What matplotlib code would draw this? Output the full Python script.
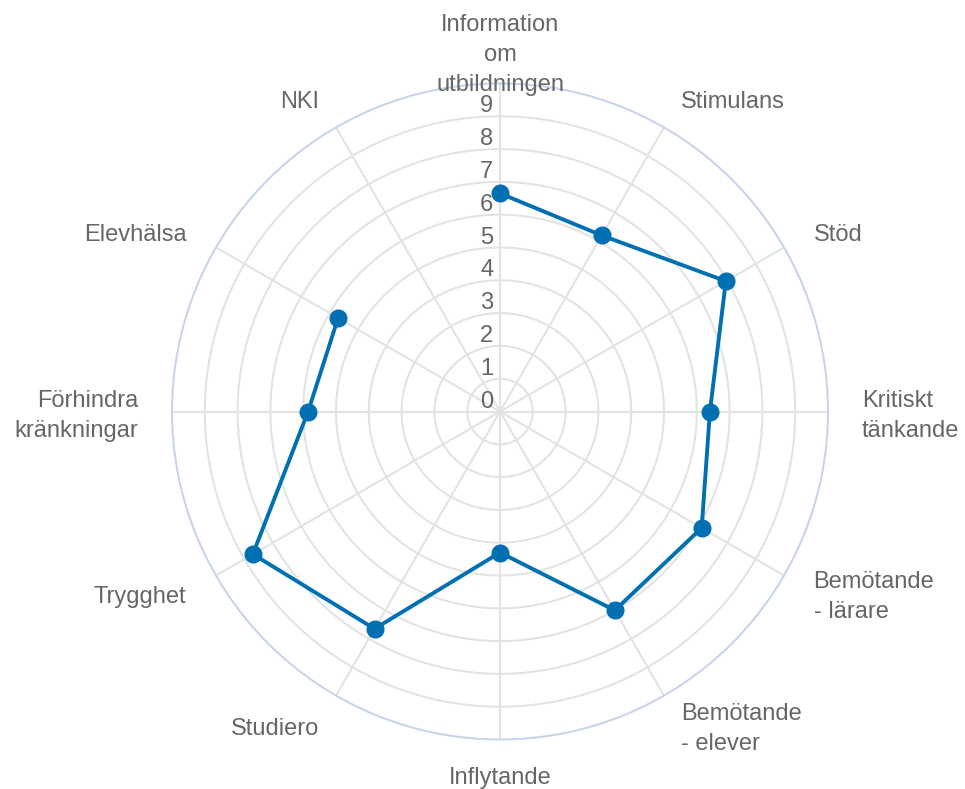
import numpy as np
import matplotlib
matplotlib.use("Agg")
from matplotlib import pyplot as plt

categories = ["Information\nom\nutbildningen", "Stimulans", "Stöd",
              "Kritiskt\ntänkande", "Bemötande\n- lärare", "Bemötande\n- elever",
              "Inflytande", "Studiero", "Trygghet", "Förhindra\nkränkningar",
              "Elevhälsa", "NKI"]
values = [6.65, 6.2, 7.95, 6.4, 7.1, 7.0, 4.3, 7.65, 8.7, 5.85, 5.7, np.nan]
ticks = [0, 1, 2, 3, 4, 5, 6, 7, 8, 9]
rmax = 10

line_col = "#0070b2"
grid_col = "#e3e3e3"
text_col = "#666666"

plt.rcParams['font.family'] = ['Liberation Sans', 'DejaVu Sans']

fig = plt.figure(figsize=(9.65, 7.89), dpi=100)
ax = fig.add_axes([172/965, 49.5/789, 656/965, 656/789], projection='polar')
ax.set_theta_zero_location('N')
ax.set_theta_direction(-1)
ax.set_ylim(0, rmax)

n = len(categories)
angles = np.arange(n) * 2 * np.pi / n

# grid: rings and spokes
ax.grid(False)
ax.set_xticks([])
ax.set_yticks([])
ax.spines['polar'].set_color("#c9d4ea")
ax.spines['polar'].set_linewidth(1.5)
th = np.linspace(0, 2*np.pi, 400)
for r in range(1, rmax):
    ax.plot(th, np.full_like(th, r), color=grid_col, lw=1.5, zorder=1)
for a in angles:
    ax.plot([a, a], [0, rmax], color=grid_col, lw=1.5, zorder=1)

# tick labels
for t in ticks:
    ax.annotate(str(t), xy=(0, t), xytext=(-4.8, 2.8), textcoords='offset points',
                ha='right', va='baseline', fontsize=17, color=text_col, zorder=3)

# category labels
lab_r = 11.04
for a, c in zip(angles, categories):
    deg = np.degrees(a) % 360
    if np.isclose(deg, 0) or np.isclose(deg, 180):
        ha = 'center'
    elif deg < 180:
        ha = 'left'
    else:
        ha = 'right'
    dy = -4.3 if np.isclose(deg, 0) else -3.0
    ax.annotate(c, xy=(a, lab_r), xytext=(0, dy), textcoords='offset points',
                ha=ha, va='center', multialignment=ha, fontsize=17,
                color=text_col, linespacing=1.47, annotation_clip=False)

ax.plot(angles, values, color=line_col, lw=2.8, marker='o', markersize=12,
        zorder=4, clip_on=False)

fig.savefig("out.png", dpi=100)
